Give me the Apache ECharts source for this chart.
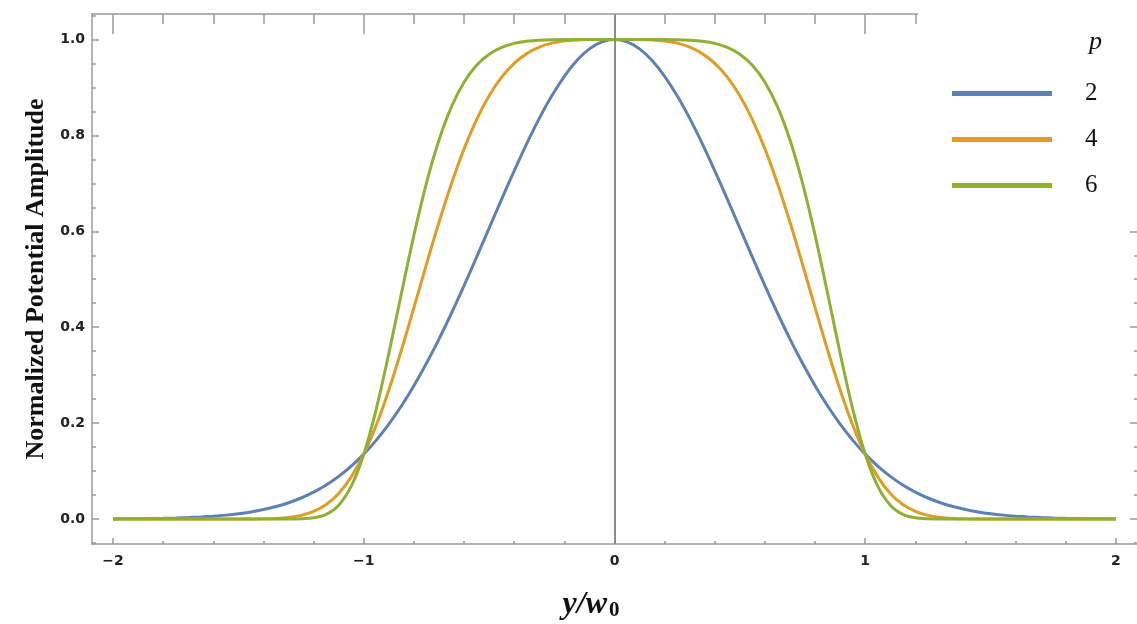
<!DOCTYPE html>
<html>
<head>
<meta charset="utf-8">
<script src="https://cdn.jsdelivr.net/npm/echarts@6/dist/echarts.min.js"></script>
<style>
  html, body { margin: 0; padding: 0; background: #fff; }
  #chart { width: 1137px; height: 624px; }
</style>
</head>
<body>
<div id="chart"></div>
<script>
// y / w0 sample positions
const xs = [
  -2.00, -1.95, -1.90, -1.85, -1.80, -1.75, -1.70, -1.65, -1.60, -1.55,
  -1.50, -1.45, -1.40, -1.35, -1.30, -1.25, -1.20, -1.15, -1.10, -1.05,
  -1.00, -0.95, -0.90, -0.85, -0.80, -0.75, -0.70, -0.65, -0.60, -0.55,
  -0.50, -0.45, -0.40, -0.35, -0.30, -0.25, -0.20, -0.15, -0.10, -0.05,
  0.00,
  0.05, 0.10, 0.15, 0.20, 0.25, 0.30, 0.35, 0.40, 0.45, 0.50,
  0.55, 0.60, 0.65, 0.70, 0.75, 0.80, 0.85, 0.90, 0.95, 1.00,
  1.05, 1.10, 1.15, 1.20, 1.25, 1.30, 1.35, 1.40, 1.45, 1.50,
  1.55, 1.60, 1.65, 1.70, 1.75, 1.80, 1.85, 1.90, 1.95, 2.00
];

// p = 2
const amp2 = [
  0.0003, 0.0005, 0.0007, 0.0011, 0.0015, 0.0022, 0.0031, 0.0043, 0.0060, 0.0082,
  0.0111, 0.0149, 0.0198, 0.0261, 0.0340, 0.0439, 0.0561, 0.0710, 0.0889, 0.1103,
  0.1353, 0.1645, 0.1979, 0.2357, 0.2780, 0.3247, 0.3753, 0.4296, 0.4868, 0.5461,
  0.6065, 0.6670, 0.7261, 0.7827, 0.8353, 0.8825, 0.9231, 0.9560, 0.9802, 0.9950,
  1.0000,
  0.9950, 0.9802, 0.9560, 0.9231, 0.8825, 0.8353, 0.7827, 0.7261, 0.6670, 0.6065,
  0.5461, 0.4868, 0.4296, 0.3753, 0.3247, 0.2780, 0.2357, 0.1979, 0.1645, 0.1353,
  0.1103, 0.0889, 0.0710, 0.0561, 0.0439, 0.0340, 0.0261, 0.0198, 0.0149, 0.0111,
  0.0082, 0.0060, 0.0043, 0.0031, 0.0022, 0.0015, 0.0011, 0.0007, 0.0005, 0.0003
];

// p = 4
const amp4 = [
  0, 0, 0, 0, 0, 0, 0, 0, 0, 0,
  0.0000, 0.0001, 0.0005, 0.0013, 0.0033, 0.0076, 0.0158, 0.0303, 0.0535, 0.0879,
  0.1353, 0.1961, 0.2692, 0.3520, 0.4408, 0.5311, 0.6187, 0.6998, 0.7717, 0.8328,
  0.8825, 0.9213, 0.9501, 0.9704, 0.9839, 0.9922, 0.9968, 0.9990, 0.9998, 1.0000,
  1.0000,
  1.0000, 0.9998, 0.9990, 0.9968, 0.9922, 0.9839, 0.9704, 0.9501, 0.9213, 0.8825,
  0.8328, 0.7717, 0.6998, 0.6187, 0.5311, 0.4408, 0.3520, 0.2692, 0.1961, 0.1353,
  0.0879, 0.0535, 0.0303, 0.0158, 0.0076, 0.0033, 0.0013, 0.0005, 0.0001, 0.0000,
  0, 0, 0, 0, 0, 0, 0, 0, 0, 0
];

// p = 6
const amp6 = [
  0, 0, 0, 0, 0, 0, 0, 0, 0, 0,
  0, 0, 0, 0, 0.0001, 0.0005, 0.0026, 0.0098, 0.0289, 0.0685,
  0.1353, 0.2299, 0.3455, 0.4703, 0.5920, 0.7005, 0.7903, 0.8600, 0.9109, 0.9461,
  0.9692, 0.9835, 0.9918, 0.9963, 0.9985, 0.9995, 0.9999, 1.0000, 1.0000, 1.0000,
  1.0000,
  1.0000, 1.0000, 1.0000, 0.9999, 0.9995, 0.9985, 0.9963, 0.9918, 0.9835, 0.9692,
  0.9461, 0.9109, 0.8600, 0.7903, 0.7005, 0.5920, 0.4703, 0.3455, 0.2299, 0.1353,
  0.0685, 0.0289, 0.0098, 0.0026, 0.0005, 0.0001, 0, 0, 0, 0,
  0, 0, 0, 0, 0, 0, 0, 0, 0, 0
];

const seriesNames = ['2', '4', '6'];

// ticks
const xMajor = [-2, -1, 0, 1, 2];
const xMinor = [-1.8, -1.6, -1.4, -1.2, -0.8, -0.6, -0.4, -0.2,
                0.2, 0.4, 0.6, 0.8, 1.2, 1.4, 1.6, 1.8];
const yMajor = [0, 0.2, 0.4, 0.6, 0.8, 1.0];
const yMinor = [-0.05, 0.05, 0.1, 0.15, 0.25, 0.3, 0.35, 0.45, 0.5, 0.55,
                0.65, 0.7, 0.75, 0.85, 0.9, 0.95, 1.05];

const colors = ['#5E81B5', '#E19C24', '#8FB032'];
const frameColor = '#9a9a9a';
const xMin = -2.084, xMax = 2.088;
const yMin = -0.052, yMax = 1.053;

const tickFont = {
  fontFamily: 'DejaVu Sans',
  fontWeight: 'bold',
  fontSize: 14,
  color: '#222'
};

function xAx(position, showLine, values, len, labels) {
  return {
    type: 'value', gridIndex: 0, position: position,
    min: xMin, max: xMax,
    axisLine: { show: showLine, onZero: false, lineStyle: { color: frameColor, width: 1.5 } },
    axisTick: { show: true, inside: true, length: len, customValues: values,
                lineStyle: { color: frameColor, width: 1.5 } },
    axisLabel: labels ? Object.assign({
      customValues: values, margin: 10,
      formatter: v => (v < 0 ? '\u2212' + Math.abs(v) : String(v))
    }, tickFont) : { show: false },
    splitLine: { show: false }
  };
}

function yAx(position, showLine, values, len, labels) {
  return {
    type: 'value', gridIndex: 0, position: position,
    min: yMin, max: yMax,
    axisLine: { show: showLine, onZero: false, lineStyle: { color: frameColor, width: 1.5 } },
    axisTick: { show: true, inside: true, length: len, customValues: values,
                lineStyle: { color: frameColor, width: 1.5 } },
    axisLabel: labels ? Object.assign({
      customValues: values, margin: 7,
      formatter: v => v.toFixed(1)
    }, tickFont) : { show: false },
    splitLine: { show: false }
  };
}

const chart = echarts.init(document.getElementById('chart'));

const xAxes = [
  xAx('bottom', true, xMajor, 6, true),
  xAx('bottom', false, xMinor, 3, false),
  xAx('top', true, xMajor, 20, false),
  xAx('top', false, xMinor, 10, false)
];
xAxes[0].name = '{i|y/w}{s|0}';
xAxes[0].nameLocation = 'middle';
xAxes[0].nameGap = 44;
xAxes[0].nameTextStyle = {
  padding: [0, 48, 0, 0],
  rich: {
    i: { fontFamily: 'Liberation Serif', fontStyle: 'italic', fontWeight: 'bold', fontSize: 32, color: '#111' },
    s: { fontFamily: 'Liberation Serif', fontWeight: 'bold', fontSize: 21, color: '#111', padding: [12, 0, 0, 2] }
  }
};

const yAxes = [
  yAx('left', true, yMajor, 7, true),
  yAx('left', false, yMinor, 4, false),
  yAx('right', true, yMajor, 8, false),
  yAx('right', false, yMinor, 4, false)
];
yAxes[0].name = 'Normalized Potential Amplitude';
yAxes[0].nameLocation = 'middle';
yAxes[0].nameGap = 40;
yAxes[0].nameTextStyle = {
  fontFamily: 'Liberation Serif', fontWeight: 'bold', fontSize: 26, color: '#111'
};

const series = seriesNames.map((name, k) => ({
  name: name,
  type: 'line',
  xAxisIndex: 0,
  yAxisIndex: 0,
  data: xs.map((x, i) => [x, [amp2, amp4, amp6][k][i]]),
  showSymbol: false,
  smooth: 0.3,
  lineStyle: { color: colors[k], width: 3 },
  itemStyle: { color: colors[k] }
}));

// vertical axis line at y/w0 = 0
series[0].markLine = {
  silent: true,
  symbol: ['none', 'none'],
  label: { show: false },
  lineStyle: { color: '#8a8a8a', width: 2, type: 'solid' },
  data: [{ xAxis: 0 }]
};

const option = {
  animation: false,
  backgroundColor: '#fff',
  grid: { left: 92, right: -1, top: 14, bottom: 80, outerBoundsMode: 'none' },
  title: {
    text: 'p',
    left: 1084,
    top: 24,
    textStyle: { fontFamily: 'Liberation Serif', fontStyle: 'italic', fontWeight: 'normal', fontSize: 26, color: '#111' }
  },
  legend: {
    orient: 'vertical',
    left: 918,
    top: 0,
    padding: [72, 41, 8, 34],
    backgroundColor: '#fff',
    icon: 'rect',
    itemWidth: 100,
    itemHeight: 5,
    itemGap: 3,
    selectedMode: false,
    textStyle: {
      fontFamily: 'Liberation Serif', fontSize: 25, lineHeight: 25, color: '#111',
      padding: [0, 0, 18, 28]
    },
    data: seriesNames
  },
  xAxis: xAxes,
  yAxis: yAxes,
  series: series
};

chart.setOption(option);
</script>
</body>
</html>
